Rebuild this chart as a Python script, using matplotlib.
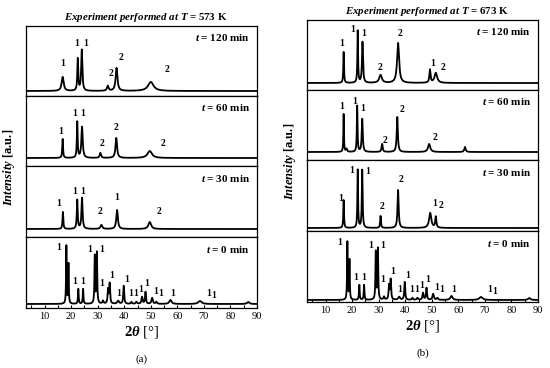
import numpy as np
import matplotlib
matplotlib.use("Agg")
import matplotlib.pyplot as plt

plt.rcParams['font.family'] = ['Liberation Serif', 'DejaVu Serif']
plt.rcParams['mathtext.fontset'] = 'custom'
plt.rcParams['mathtext.it'] = 'Liberation Serif:italic:bold'
plt.rcParams['mathtext.rm'] = 'Liberation Serif:bold'
plt.rcParams['mathtext.bf'] = 'Liberation Serif:bold'

# peak lists: position (2theta), height (a.u.), fwhm (deg)
# reference pattern, t = 0 min (same in both runs)
ref_pos = [18.2, 19.0, 22.7, 24.5, 28.9, 29.7, 32.0, 33.9, 34.5, 37.7, 39.8,
           42.7, 44.6, 46.7, 48.0, 50.5, 52.1, 57.4, 68.5, 86.7]
ref_hgt = [58, 40, 15, 15, 48, 51, 3, 14, 20, 3, 18, 2, 2, 7, 12, 6, 2, 4, 3, 2]
ref_fwhm = [0.25, 0.25, 0.3, 0.3, 0.3, 0.3, 0.5, 0.4, 0.4, 0.8, 0.4,
            0.5, 0.6, 0.5, 0.4, 0.6, 0.6, 1.0, 1.5, 1.0]
ref_lab_x = [15.4, 21.3, 24.5, 27.0, 31.6, 31.6, 35.4, 38.0, 40.8, 42.5, 44.2,
             46.2, 48.4, 51.8, 53.8, 58.2, 71.9, 73.8]
ref_lab_y = [57, 23, 23, 54, 54, 20, 28, 10, 25, 10, 10, 15, 21, 12, 10, 11, 11, 9]
ref_lab = ['1'] * len(ref_lab_x)

# T = 573 K
a120_pos = [16.8, 22.5, 24.0, 33.8, 37.1, 50.0]
a120_hgt = [14, 32, 41, 5, 23, 9]
a120_fwhm = [0.9, 0.4, 0.5, 0.7, 0.8, 2.5]
a120_lab_x = [16.8, 22.1, 25.5, 34.9, 38.7, 56.0]
a120_lab_y = [28, 48, 48, 17, 33, 21]
a120_lab = ['1', '1', '1', '2', '2', '2']

a60_pos = [16.8, 22.3, 24.1, 31.0, 37.0, 49.6]
a60_hgt = [19, 36, 31, 5, 20, 7]
a60_fwhm = [0.35, 0.35, 0.6, 0.6, 0.7, 2.0]
a60_lab_x = [15.9, 21.3, 24.2, 31.5, 37.0, 54.6]
a60_lab_y = [27, 45, 44, 14, 30, 14]
a60_lab = ['1', '1', '1', '2', '2', '2']

a30_pos = [16.9, 22.3, 24.1, 31.4, 37.3, 49.6]
a30_hgt = [17, 29, 31, 4, 19, 7]
a30_fwhm = [0.35, 0.4, 0.5, 0.8, 0.7, 1.2]
a30_lab_x = [15.4, 21.3, 24.2, 31.0, 37.3, 53.1]
a30_lab_y = [26, 38, 38, 17, 31, 17]
a30_lab = ['1', '1', '1', '2', '1', '2']

# T = 673 K
b120_pos = [16.8, 22.1, 23.9, 30.7, 37.3, 49.3, 51.5]
b120_hgt = [31, 52, 41, 8, 40, 13, 10]
b120_fwhm = [0.3, 0.3, 0.45, 1.2, 0.9, 0.5, 1.2]
b120_lab_x = [16.2, 20.1, 24.4, 30.5, 37.9, 50.2, 54.4]
b120_lab_y = [40, 54, 50, 15, 49, 20, 15]
b120_lab = ['1', '1', '1', '2', '2', '1', '2']

b60_pos = [16.8, 17.9, 21.9, 23.8, 31.3, 37.0, 49.0, 62.5]
b60_hgt = [38, 3, 46, 33, 8, 35, 8, 5]
b60_fwhm = [0.25, 0.5, 0.3, 0.45, 0.5, 0.5, 1.0, 0.6]
b60_lab_x = [16.2, 20.9, 24.1, 32.3, 38.9, 51.3]
b60_lab_y = [45, 50, 43, 11, 42, 14]
b60_lab = ['1', '1', '1', '2', '2', '2']

b30_pos = [16.8, 22.1, 23.8, 30.7, 37.3, 49.4, 51.5]
b30_hgt = [28, 58, 58, 12, 38, 15, 11]
b30_fwhm = [0.3, 0.3, 0.35, 0.35, 0.5, 1.0, 0.5]
b30_lab_x = [15.6, 20.0, 25.9, 31.3, 38.5, 51.2, 53.5]
b30_lab_y = [29, 57, 56, 21, 48, 24, 22]
b30_lab = ['1', '1', '1', '2', '2', '1', '2']

times = ['120', '60', '30', '0']
titles = ['573 K', '673 K']
letters = ['(a)', '(b)']

left_sets = [(a120_pos, a120_hgt, a120_fwhm, a120_lab_x, a120_lab_y, a120_lab),
             (a60_pos, a60_hgt, a60_fwhm, a60_lab_x, a60_lab_y, a60_lab),
             (a30_pos, a30_hgt, a30_fwhm, a30_lab_x, a30_lab_y, a30_lab),
             (ref_pos, ref_hgt, ref_fwhm, ref_lab_x, ref_lab_y, ref_lab)]
right_sets = [(b120_pos, b120_hgt, b120_fwhm, b120_lab_x, b120_lab_y, b120_lab),
              (b60_pos, b60_hgt, b60_fwhm, b60_lab_x, b60_lab_y, b60_lab),
              (b30_pos, b30_hgt, b30_fwhm, b30_lab_x, b30_lab_y, b30_lab),
              (ref_pos, ref_hgt, ref_fwhm, ref_lab_x, ref_lab_y, ref_lab)]

tt = np.linspace(3, 90, 4000)


def profile(pos, hgt, fwhm):
    y = np.zeros_like(tt)
    for p, h, w in zip(pos, hgt, fwhm):
        y += h / (1 + ((tt - p) / (w / 2)) ** 2)
    return y


W, H = 550, 368
fig = plt.figure(figsize=(5.5, 3.68), dpi=100)

# layout in pixels
cols = [dict(x0=26, x1=257, edges=[26, 96, 166, 237, 308], base=[5, 8, 8, 4], sets=left_sets),
        dict(x0=307, x1=538, edges=[20, 90, 160, 231, 302], base=[7, 8, 3, 2], sets=right_sets)]

for c, col in enumerate(cols):
    for i in range(4):
        top, bot = col['edges'][i], col['edges'][i + 1]
        ax = fig.add_axes([col['x0'] / W, 1 - bot / H, (col['x1'] - col['x0']) / W, (bot - top) / H])
        pos, hgt, fwhm, lx, ly, lt = col['sets'][i]
        ax.plot(tt, profile(pos, hgt, fwhm), color='black', lw=1.3)
        off = col['base'][i]
        ax.set_ylim(-off, (bot - top) - off)
        ax.set_xlim(3, 90)
        for x, y, s in zip(lx, ly, lt):
            ax.text(x, y, s, fontsize=7, fontweight='bold', ha='center', va='center')
        ax.text(0.97, 0.83, r'$t$ = %s min' % times[i], transform=ax.transAxes,
                ha='right', va='center', fontsize=8, fontweight='bold')
        ax.set_yticks([])
        for sp in ax.spines.values():
            sp.set_linewidth(0.9)
        ax.set_xticks(np.arange(10, 91, 10))
        ax.set_xticks(np.arange(5, 90, 10), minor=True)
        ax.tick_params(axis='x', which='both', direction='in', length=2, width=0.8)
        if i == 0:
            ax.set_title(r'$Experiment\ performed\ at\ T$ = ' + titles[c],
                         fontsize=7.8, fontweight='bold', pad=4, x=0.518)
        if i < 3:
            ax.tick_params(axis='x', which='both', labelbottom=False, bottom=False)
        else:
            ax.tick_params(axis='x', labelsize=7.5, pad=3)
            ax.set_xlabel(r'$2\theta$ [°]', fontsize=10.5, labelpad=2)
            ax.text(0.5, -0.72, letters[c], transform=ax.transAxes, ha='center',
                    va='center', fontsize=8)
    mid = (col['edges'][0] + col['edges'][-1]) / 2
    fig.text((col['x0'] - 17) / W, 1 - mid / H, r'$Intensity$ [a.u.]', rotation=90,
             ha='center', va='center', fontsize=9, fontweight='bold')

fig.savefig('out.png', dpi=100)
